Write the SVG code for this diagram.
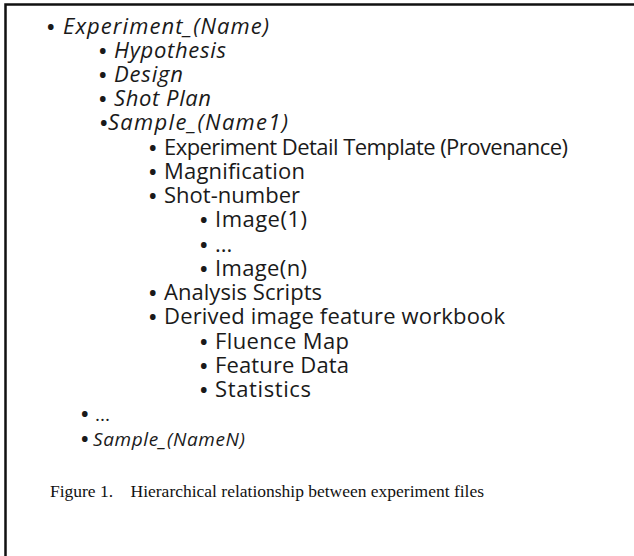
<svg xmlns="http://www.w3.org/2000/svg" width="634" height="556" viewBox="0 0 634 556">
<style>
text{font-family:"Open Sans","Noto Sans",sans-serif;fill:#1a1a1a;font-size:22px}
.i{font-style:italic}
.s{font-size:19px}
.b{font-size:20px;font-weight:bold;font-style:normal}
.cap{font-family:"Liberation Serif","Times New Roman",serif;fill:#111;font-size:17.5px}
</style>
<rect width="634" height="556" fill="#fff"/>
<path d="M5.5 556 V4.5 H634" fill="none" stroke="#111" stroke-width="2.5"/>
<g id="n-experiment"><text y="34"><tspan class="b" x="47">•</tspan><tspan class="i" x="63" textLength="206">Experiment_(Name)</tspan></text></g>
<g id="n-hypothesis"><text y="58"><tspan class="b" x="99">•</tspan><tspan class="i" x="114" textLength="112">Hypothesis</tspan></text></g>
<g id="n-design"><text y="82"><tspan class="b" x="99">•</tspan><tspan class="i" x="114" textLength="69">Design</tspan></text></g>
<g id="n-shotplan"><text y="106"><tspan class="b" x="99">•</tspan><tspan class="i" x="114" textLength="97">Shot Plan</tspan></text></g>
<g id="n-sample1"><text y="130"><tspan class="b" x="100">•</tspan><tspan class="i" x="108" textLength="180">Sample_(Name1)</tspan></text></g>
<g id="n-template"><text y="155"><tspan class="b" x="149">•</tspan><tspan x="164" textLength="404">Experiment Detail Template (Provenance)</tspan></text></g>
<g id="n-magnification"><text y="179"><tspan class="b" x="149">•</tspan><tspan x="164" textLength="141">Magnification</tspan></text></g>
<g id="n-shotnumber"><text y="203"><tspan class="b" x="149">•</tspan><tspan x="164" textLength="136">Shot-number</tspan></text></g>
<g id="n-image1"><text y="227"><tspan class="b" x="200">•</tspan><tspan x="215" textLength="92">Image(1)</tspan></text></g>
<g id="n-imgdots"><text y="252"><tspan class="b" x="200">•</tspan><tspan x="215">...</tspan></text></g>
<g id="n-imagen"><text y="276"><tspan class="b" x="200">•</tspan><tspan x="215" textLength="92">Image(n)</tspan></text></g>
<g id="n-analysis"><text y="300"><tspan class="b" x="149">•</tspan><tspan x="164" textLength="158">Analysis Scripts</tspan></text></g>
<g id="n-derived"><text y="324"><tspan class="b" x="149">•</tspan><tspan x="164" textLength="341">Derived image feature workbook</tspan></text></g>
<g id="n-fluence"><text y="349"><tspan class="b" x="200">•</tspan><tspan x="215" textLength="134">Fluence Map</tspan></text></g>
<g id="n-feature"><text y="373"><tspan class="b" x="200">•</tspan><tspan x="215" textLength="134">Feature Data</tspan></text></g>
<g id="n-statistics"><text y="397"><tspan class="b" x="200">•</tspan><tspan x="215" textLength="96">Statistics</tspan></text></g>
<g id="n-sampledots"><text y="421"><tspan class="b" x="81">•</tspan><tspan class="s" x="95">...</tspan></text></g>
<g id="n-samplen"><text y="446"><tspan class="b" x="81">•</tspan><tspan class="s i" x="93" textLength="152">Sample_(NameN)</tspan></text></g>
<g id="caption"><text class="cap" x="50" y="497" textLength="434" xml:space="preserve">Figure 1.    Hierarchical relationship between experiment files</text></g>
<g id="connectors"></g>
</svg>
